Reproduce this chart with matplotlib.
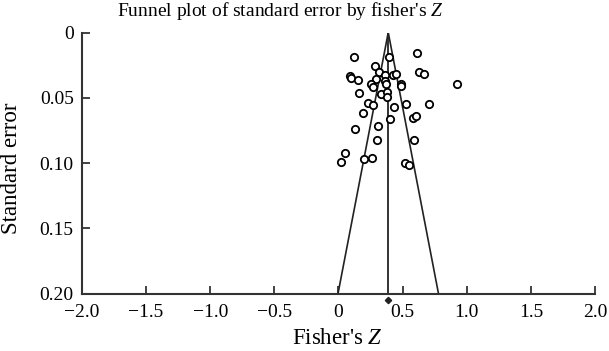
import matplotlib
matplotlib.use("Agg")
import matplotlib.pyplot as plt
import numpy as np

plt.rcParams['font.family'] = ['Liberation Serif', 'DejaVu Serif']
plt.rcParams['mathtext.fontset'] = 'custom'
plt.rcParams['mathtext.it'] = 'Liberation Serif:italic'
plt.rcParams['mathtext.rm'] = 'Liberation Serif'

fisher_z = [0.121, 0.394, 0.616, 0.285, 0.090, 0.101, 0.152, 0.318, 0.363, 0.425,
            0.452, 0.289, 0.257, 0.269, 0.363, 0.374, 0.491, 0.487, 0.926, 0.630,
            0.663, 0.160, 0.331, 0.378, 0.380, 0.232, 0.273, 0.433, 0.524, 0.708,
            0.191, 0.579, 0.606, 0.398, 0.129, 0.310, 0.298, 0.590, 0.051, 0.019,
            0.201, 0.264, 0.522, 0.550]
std_err = [0.0184, 0.0184, 0.0157, 0.0253, 0.0333, 0.0349, 0.0364, 0.0305, 0.0322, 0.0326,
           0.0314, 0.0356, 0.0397, 0.0414, 0.0375, 0.0395, 0.0395, 0.0410, 0.0397, 0.0300,
           0.0318, 0.0466, 0.0471, 0.0456, 0.0494, 0.0536, 0.0558, 0.0569, 0.0546, 0.0548,
           0.0613, 0.0657, 0.0636, 0.0663, 0.0737, 0.0719, 0.0820, 0.0821, 0.0926, 0.0992,
           0.0969, 0.0960, 0.0996, 0.1014]
pooled_z = 0.388
se_max = 0.20
x_ticks = [-2.0, -1.5, -1.0, -0.5, 0, 0.5, 1.0, 1.5, 2.0]
x_labels = ['\u22122.0', '\u22121.5', '\u22121.0', '\u22120.5', '0', '0.5', '1.0', '1.5', '2.0']
y_ticks = [0, 0.05, 0.10, 0.15, 0.20]
y_labels = ['0', '0.05', '0.10', '0.15', '0.20']

W, H = 609, 351
fig = plt.figure(figsize=(6.09, 3.51), dpi=100)
ax = fig.add_axes([0.1346, 0.163, 0.977 - 0.1346, 0.9074 - 0.163])

col = '#222222'
ax.plot([pooled_z, pooled_z], [0, se_max], color=col, lw=1.3)
ax.plot([pooled_z - 1.96 * se_max, pooled_z, pooled_z + 1.96 * se_max], [se_max, 0, se_max],
        color=col, lw=1.2)
ax.scatter(fisher_z, std_err, s=28, facecolors='white', edgecolors='black', linewidths=1.3, zorder=3)
ax.plot([pooled_z], [0.205], marker='D', ms=3.2, color=col, clip_on=False, zorder=4)

ax.set_xlim(-2.0, 2.0)
ax.set_ylim(0.20, 0)
ax.set_xticks(x_ticks)
ax.set_xticklabels(x_labels)
ax.set_yticks(y_ticks)
ax.set_yticklabels(y_labels)
ax.tick_params(direction='in', length=6, width=1.2, colors=col, labelsize=14, labelcolor='black')
ax.tick_params(axis='x', pad=7)
ax.tick_params(axis='y', pad=6)
for s in ['top', 'right']:
    ax.spines[s].set_visible(False)
for s in ['left', 'bottom']:
    ax.spines[s].set_linewidth(1.5)
    ax.spines[s].set_color('#333333')

fig.text(280 / W, 1 - 16.5 / H, "Funnel plot of standard error by fisher's $Z$",
         fontsize=14, ha='center', va='baseline')
fig.text(337 / W, 1 - 338 / H, "Fisher's $Z$", fontsize=16.5, ha='center', va='center')
fig.text(12 / W, 1 - 168.5 / H, "Standard error", fontsize=16.5, ha='center', va='center',
         rotation=90)

fig.savefig('out.png', dpi=100)
